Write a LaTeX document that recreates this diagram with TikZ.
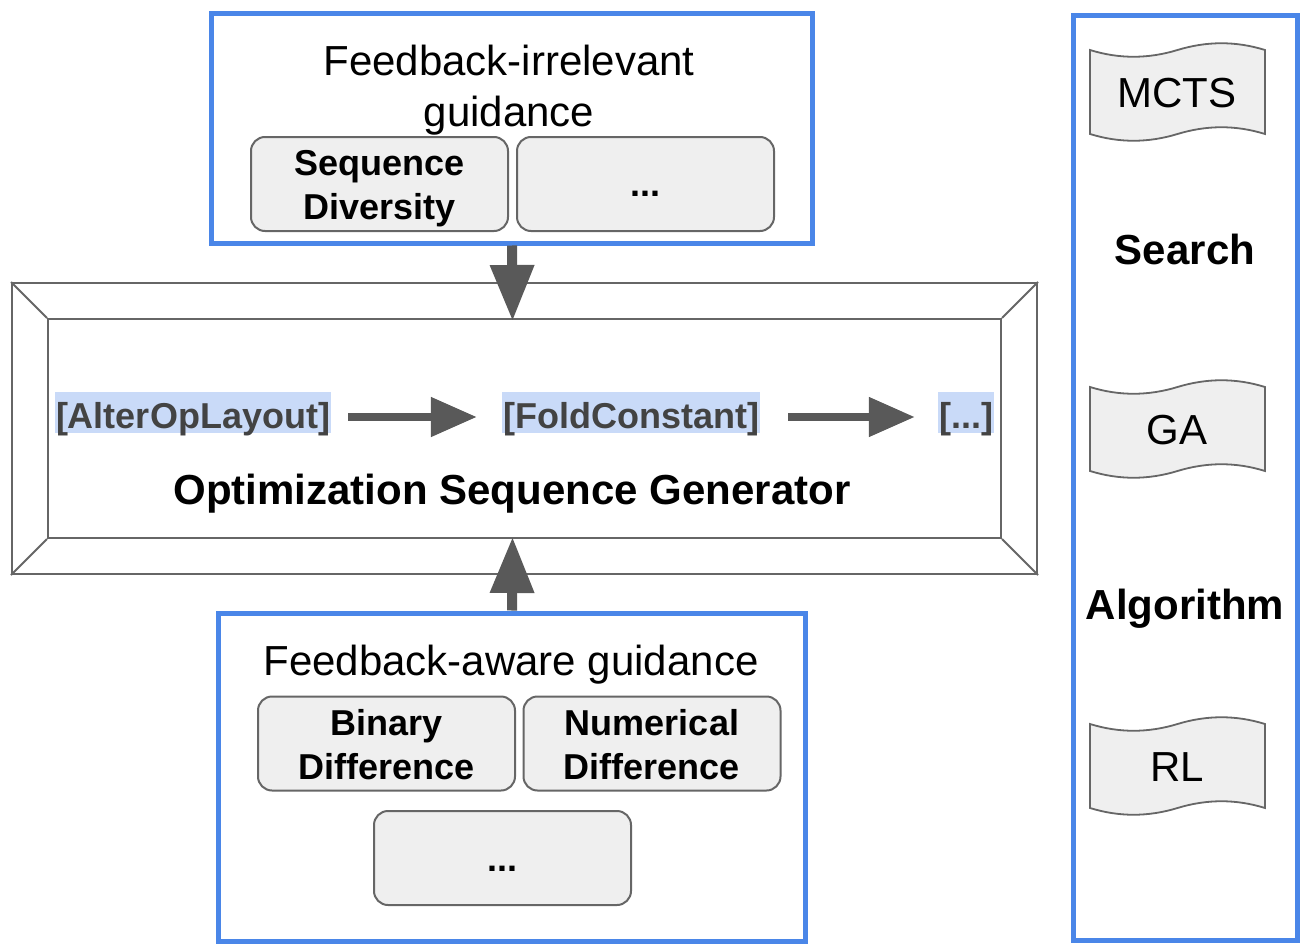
\documentclass[tikz,border=0pt]{standalone}
\usepackage{fontspec}
\setmainfont{Liberation Sans}
\usetikzlibrary{arrows.meta}
\definecolor{gblue}{HTML}{4A86E8}
\definecolor{ggray}{HTML}{666666}
\definecolor{gfill}{HTML}{EFEFEF}
\definecolor{garrow}{HTML}{595959}
\definecolor{hl}{HTML}{C9DAF8}
\definecolor{hltext}{HTML}{434343}
\tikzset{
  bluebox/.style={draw=gblue, line width=5pt, inner sep=0pt},
  graybox/.style={draw=ggray, line width=2pt, fill=gfill, rounded corners=14pt, minimum width=257pt, minimum height=94pt, inner sep=0pt},
  boxtext/.style={align=center, font=\fontsize{36}{44}\selectfont\bfseries, inner sep=0pt},
  frameline/.style={draw=ggray, line width=2pt},
  hlnode/.style={fill=hl, text=hltext, font=\fontsize{36}{44}\selectfont\bfseries, inner xsep=1pt, inner ysep=3pt, text height=33pt, text depth=2pt},
  seqarrow/.style={draw=garrow, line width=8pt, -{Triangle[length=46pt,width=38pt]}},
  bigarrow/.style={draw=garrow, line width=10pt, -{Triangle[length=56pt,width=42pt]}},
  tapestyle/.style={draw=ggray, line width=1.8pt, fill=gfill},
  tapetext/.style={font=\fontsize{42}{50}\selectfont},
  heading/.style={font=\fontsize{42}{51}\selectfont, align=center},
  boldheading/.style={font=\fontsize{42}{51}\selectfont\bfseries},
}
\newcommand{\tapepath}{(-87,-42) .. controls (-58,-33) and (-29,-33) .. (0.5,-42) .. controls (30,-51) and (59,-51) .. (88,-42) -- (88,42) .. controls (59,33) and (30,33) .. (0.5,42) .. controls (-29,51) and (-58,51) .. (-87,42) -- cycle}
\begin{document}
\begin{tikzpicture}[x=1pt,y=-1pt]
\useasboundingbox (0,0) rectangle (1310,950);

% top box
\node[bluebox, minimum width=601pt, minimum height=229pt] (topbox) at (511.5,128.5) {};
\node[heading] (toptitle) at (509,90) {Feedback-irrelevant\\guidance};
\node[graybox] (seqdiv) at (379.5,184) {};
\node[boxtext] (seqdivtext) at (379.5,189) {Sequence\\Diversity};
\node[graybox] (topdots) at (645.5,184) {};
\node[boxtext, anchor=base] (topdotstext) at (645.5,196) {...};

% frame
\node[frameline, minimum width=1025pt, minimum height=291pt, inner sep=0pt] (outer) at (524.5,428.5) {};
\node[frameline, minimum width=953pt, minimum height=219pt, inner sep=0pt] (inner) at (524.5,428.5) {};
\draw[frameline] (outer.north west) -- (inner.north west);
\draw[frameline] (outer.north east) -- (inner.north east);
\draw[frameline] (outer.south west) -- (inner.south west);
\draw[frameline] (outer.south east) -- (inner.south east);

\node[hlnode] (alter) at (193,412.5) {[AlterOpLayout]};
\node[hlnode] (fold) at (631,412.5) {[FoldConstant]};
\node[hlnode] (more) at (966,412.5) {[...]};
\draw[seqarrow, shorten <=17pt, shorten >=25pt] ([yshift=-4.5pt]alter.east) -- ([yshift=-4.5pt]fold.west);
\draw[seqarrow, shorten <=28pt, shorten >=23pt] ([yshift=-4.5pt]fold.east) -- ([yshift=-4.5pt]more.west);
\node[boldheading] (osg) at (512,494) {Optimization Sequence Generator};

% bottom box
\node[bluebox, minimum width=587pt, minimum height=328pt] (botbox) at (511.5,777) {};
\node[heading] (bottitle) at (511,665) {Feedback-aware guidance};
\node[graybox] (binary) at (386.5,743.5) {};
\node[boxtext] (binarytext) at (386.5,745) {Binary\\Difference};
\node[graybox] (numer) at (652,743.5) {};
\node[boxtext] (numertext) at (652,745) {Numerical\\Difference};
\node[graybox] (botdots) at (502.5,858) {};
\node[boxtext, anchor=base] (botdotstext) at (502.5,871) {...};

% vertical arrows
\draw[bigarrow, shorten >=-3pt] ([xshift=0.5pt]topbox.south) -- ([xshift=-12pt]inner.north);
\draw[bigarrow, shorten >=-2pt] ([xshift=0.5pt]botbox.north) -- ([xshift=-12pt]inner.south);

% right box
\node[bluebox, minimum width=224pt, minimum height=924pt] (rightbox) at (1185,478) {};
\draw[tapestyle, shift={(1177,92)}] \tapepath;
\node[tapetext] (mcts) at (1177,93) {MCTS};
\draw[tapestyle, shift={(1177,429)}] \tapepath;
\node[tapetext] (ga) at (1177,430) {GA};
\draw[tapestyle, shift={(1177,766)}] \tapepath;
\node[tapetext] (rl) at (1177,767) {RL};
\node[boldheading] (search) at (1185,249) {Search};
\node[boldheading] (algo) at (1185,609) {Algorithm};
\end{tikzpicture}
\end{document}
